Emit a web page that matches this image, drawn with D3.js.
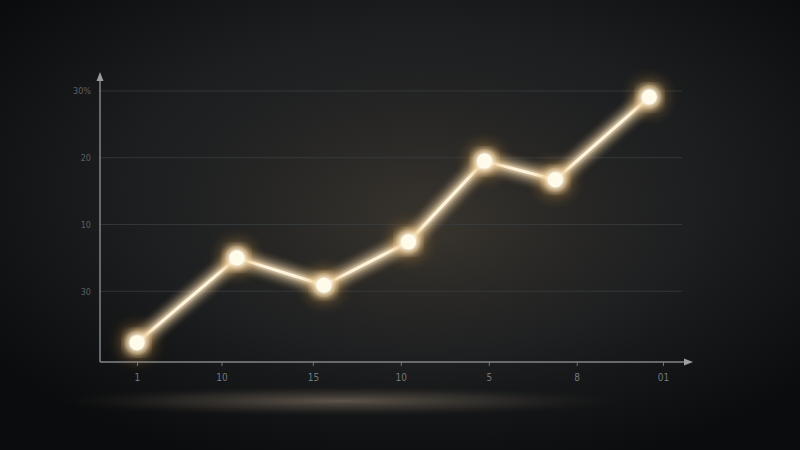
<!DOCTYPE html>
<html>
<head>
<meta charset="utf-8">
<script src="https://cdn.jsdelivr.net/npm/d3@7"></script>
<style>
html,body{margin:0;padding:0;background:#111;}
svg{display:block;}
</style>
</head>
<body>
<svg id="chart" width="800" height="450"></svg>
<script>
// Data
const pointX = [0, 1.17, 2.19, 3.18, 4.07, 4.90, 6.0];
const values = [2.3, 15.0, 10.9, 17.4, 29.5, 26.7, 39.1];
const xTickPos = [0, 0.99, 2.06, 3.09, 4.12, 5.15, 6.16];
const xTickLabels = ["1", "10", "15", "10", "5", "8", "01"];
const yTickValues = [10, 20, 30, 40];
const yTickLabels = ["30", "10", "20", "30%"];

const W = 800, H = 450;
const svg = d3.select("#chart");
const defs = svg.append("defs");

// background
const bg = defs.append("radialGradient").attr("id", "bg")
  .attr("cx", "52%").attr("cy", "42%").attr("r", "65%");
bg.append("stop").attr("offset", "0%").attr("stop-color", "#2a2927");
bg.append("stop").attr("offset", "55%").attr("stop-color", "#1c1e20");
bg.append("stop").attr("offset", "100%").attr("stop-color", "#0b0c0d");
svg.append("rect").attr("width", W).attr("height", H).attr("fill", "url(#bg)");

// warm floor glow
const floor = defs.append("radialGradient").attr("id", "floor")
  .attr("cx", "50%").attr("cy", "50%").attr("r", "50%");
floor.append("stop").attr("offset", "0%").attr("stop-color", "#6a5f52").attr("stop-opacity", 0.85);
floor.append("stop").attr("offset", "60%").attr("stop-color", "#4a433b").attr("stop-opacity", 0.4);
floor.append("stop").attr("offset", "100%").attr("stop-color", "#2a2622").attr("stop-opacity", 0);
svg.append("ellipse").attr("cx", 340).attr("cy", 401).attr("rx", 280).attr("ry", 15).attr("fill", "url(#floor)");

// glow behind line area
const halo = defs.append("radialGradient").attr("id", "halo")
  .attr("cx", "50%").attr("cy", "50%").attr("r", "50%");
halo.append("stop").attr("offset", "0%").attr("stop-color", "#4a4236").attr("stop-opacity", 0.5);
halo.append("stop").attr("offset", "100%").attr("stop-color", "#2a2622").attr("stop-opacity", 0);
svg.append("ellipse").attr("cx", 430).attr("cy", 230).attr("rx", 290).attr("ry", 170).attr("fill", "url(#halo)");

// glow filters
const f = defs.append("filter").attr("id", "glow")
  .attr("x", "-50%").attr("y", "-50%").attr("width", "200%").attr("height", "200%");
f.append("feGaussianBlur").attr("in", "SourceGraphic").attr("stdDeviation", 6).attr("result", "b1");
f.append("feGaussianBlur").attr("in", "SourceGraphic").attr("stdDeviation", 2).attr("result", "b2");
const m = f.append("feMerge");
m.append("feMergeNode").attr("in", "b1");
m.append("feMergeNode").attr("in", "b1");
m.append("feMergeNode").attr("in", "b2");
m.append("feMergeNode").attr("in", "SourceGraphic");

const fp = defs.append("filter").attr("id", "pglow")
  .attr("x", "-200%").attr("y", "-200%").attr("width", "500%").attr("height", "500%");
fp.append("feGaussianBlur").attr("in", "SourceGraphic").attr("stdDeviation", 9).attr("result", "b1");
fp.append("feGaussianBlur").attr("in", "SourceGraphic").attr("stdDeviation", 3).attr("result", "b2");
const mp = fp.append("feMerge");
mp.append("feMergeNode").attr("in", "b1");
mp.append("feMergeNode").attr("in", "b1");
mp.append("feMergeNode").attr("in", "b2");
mp.append("feMergeNode").attr("in", "SourceGraphic");

// scales
const x = d3.scaleLinear().domain([-0.433, 6.5]).range([100, 692]);
const y = d3.scaleLinear().domain([-0.6, 40]).range([362, 91]);

// gridlines
svg.append("g").selectAll("line").data(yTickValues).join("line")
  .attr("x1", x(-0.433)).attr("x2", 682)
  .attr("y1", d => y(d)).attr("y2", d => y(d))
  .attr("stroke", "#393f42").attr("stroke-width", 1).attr("opacity", 0.75);

// y axis
const yAxis = svg.append("g").attr("transform", `translate(${x(-0.433)},0)`)
  .call(d3.axisLeft(y).tickValues(yTickValues).tickSize(0).tickPadding(9)
    .tickFormat((d, i) => yTickLabels[i]));
yAxis.select(".domain").remove();
yAxis.selectAll("text").attr("fill", "#5c5f61").attr("font-family", "Liberation Sans Narrow, DejaVu Sans Condensed, sans-serif")
  .attr("font-size", 9);
svg.append("line").attr("x1", x(-0.433)).attr("x2", x(-0.433)).attr("y1", 78).attr("y2", 362)
  .attr("stroke", "#80868a").attr("stroke-width", 1.5);
svg.append("path").attr("d", `M${x(-0.433)-3.5},${81} L${x(-0.433)},${72} L${x(-0.433)+3.5},${81} Z`).attr("fill", "#9a9fa3");

// x axis
const xAxis = svg.append("g").attr("transform", `translate(0,${y(-0.6)})`)
  .call(d3.axisBottom(x).tickValues(xTickPos).tickSize(4).tickPadding(8)
    .tickFormat((d, i) => xTickLabels[i]));
xAxis.select(".domain").remove();
xAxis.selectAll(".tick line").attr("stroke", "#6f7478");
xAxis.selectAll("text").attr("fill", "#74777a").attr("font-family", "Liberation Sans Narrow, DejaVu Sans Condensed, sans-serif")
  .attr("font-size", 10);
svg.append("line").attr("x1", x(-0.433)).attr("x2", 686).attr("y1", y(-0.6)).attr("y2", y(-0.6))
  .attr("stroke", "#80868a").attr("stroke-width", 1.5);
svg.append("path").attr("d", `M684,${y(-0.6)-3.5} L693,${y(-0.6)} L684,${y(-0.6)+3.5} Z`).attr("fill", "#9a9fa3");

// line
const data = values.map((v, i) => ({x: pointX[i], v}));
const line = d3.line().x(d => x(d.x)).y(d => y(d.v));
svg.append("path").datum(data).attr("d", line)
  .attr("fill", "none").attr("stroke", "#d9a760").attr("stroke-width", 7).attr("opacity", 0.45)
  .attr("filter", "url(#glow)");
svg.append("path").datum(data).attr("d", line)
  .attr("fill", "none").attr("stroke", "#fff4dc").attr("stroke-width", 3)
  .attr("stroke-linejoin", "round").attr("filter", "url(#glow)");

// points
svg.append("g").selectAll("circle.h").data(data).join("circle")
  .attr("cx", d => x(d.x)).attr("cy", d => y(d.v)).attr("r", 12)
  .attr("fill", "#e0a553").attr("opacity", 0.55).attr("filter", "url(#pglow)");
svg.append("g").selectAll("circle.p").data(data).join("circle")
  .attr("cx", d => x(d.x)).attr("cy", d => y(d.v)).attr("r", 7.5)
  .attr("fill", "#fffbea").attr("filter", "url(#glow)");
</script>
</body>
</html>
